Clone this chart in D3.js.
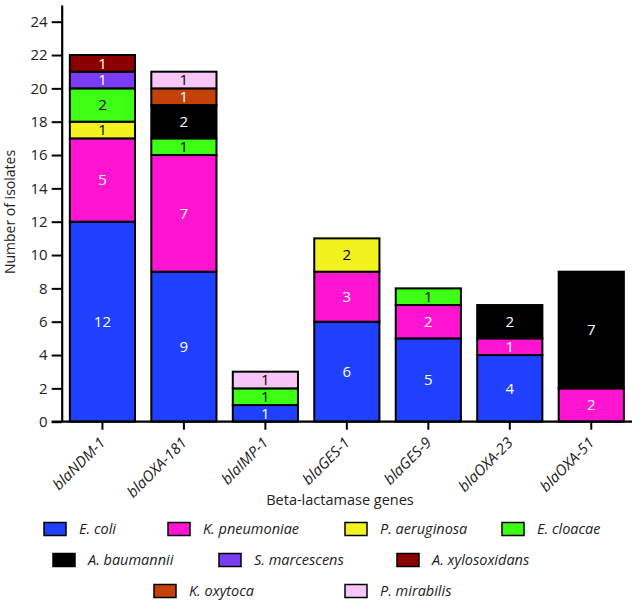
<!DOCTYPE html>
<html><head><meta charset="utf-8">
<script src="https://cdn.jsdelivr.net/npm/d3@7"></script>
<style>body{margin:0;background:#fff;} svg{display:block;}</style>
</head><body>
<svg id="chart" width="637" height="605"></svg>
<script>
const genes = ["blaNDM-1","blaOXA-181","blaIMP-1","blaGES-1","blaGES-9","blaOXA-23","blaOXA-51"];
const species = ["E. coli","K. pneumoniae","P. aeruginosa","E. cloacae","A. baumannii","S. marcescens","A. xylosoxidans","K. oxytoca","P. mirabilis"];
const colors = ["#2040ff","#ff14d2","#f2f21e","#3cff14","#000000","#7a3cf5","#8c0000","#c4420a","#f8c6f6"];
const textColors = ["#fff","#fff","#000","#000","#fff","#fff","#fff","#fff","#000"];
const eColi        = [12, 9, 1, 6, 5, 4, 0];
const kPneumoniae  = [5, 7, 0, 3, 2, 1, 2];
const pAeruginosa  = [1, 0, 0, 2, 0, 0, 0];
const eCloacae     = [2, 1, 1, 0, 1, 0, 0];
const aBaumannii   = [0, 2, 0, 0, 0, 2, 7];
const sMarcescens  = [1, 0, 0, 0, 0, 0, 0];
const aXylosoxidans= [1, 0, 0, 0, 0, 0, 0];
const kOxytoca     = [0, 1, 0, 0, 0, 0, 0];
const pMirabilis   = [0, 1, 1, 0, 0, 0, 0];
const yTicks = [0,2,4,6,8,10,12,14,16,18,20,22,24];

const seriesValues = [eColi,kPneumoniae,pAeruginosa,eCloacae,aBaumannii,sMarcescens,aXylosoxidans,kOxytoca,pMirabilis];
const table = genes.map((g,i)=>{const o={gene:g}; species.forEach((s,j)=>o[s]=seriesValues[j][i]); return o;});
const stacked = d3.stack().keys(species)(table);

const svg = d3.select("#chart");
const font = "'Open Sans', sans-serif";
const x0 = 61.7, x1 = 632, yBottom = 421.7;
const x = d3.scaleBand().domain(genes).range([x0, x1]).paddingInner(0.2).paddingOuter(0.1);
const y = d3.scaleLinear().domain([0, 25]).range([yBottom, yBottom - 25*16.667]);

// bars
const layers = svg.append("g").selectAll("g").data(stacked).enter().append("g")
  .attr("fill", (d,i)=>colors[i]);
layers.selectAll("rect").data(d=>d.filter(p=>p[1]-p[0]>0).map(p=>({p, key:d.key})))
  .enter().append("rect")
  .attr("x", d=>x(d.p.data.gene))
  .attr("width", x.bandwidth())
  .attr("y", d=>y(d.p[1]))
  .attr("height", d=>y(d.p[0])-y(d.p[1]))
  .attr("stroke","#000").attr("stroke-width",2);

// labels
stacked.forEach((layer,i)=>{
  svg.append("g").selectAll("text").data(layer.filter(p=>p[1]-p[0]>0)).enter().append("text")
    .attr("x", p=>x(p.data.gene)+x.bandwidth()/2)
    .attr("y", p=>(y(p[0])+y(p[1]))/2)
    .attr("dy","0.36em")
    .attr("text-anchor","middle")
    .attr("font-family",font).attr("font-size",15)
    .attr("fill", textColors[i])
    .text(p=>p[1]-p[0]);
});

// y axis
const yAxis = svg.append("g").attr("transform",`translate(${x0},0)`)
  .call(d3.axisLeft(y).tickValues(yTicks).tickSize(10).tickPadding(4).tickSizeOuter(0));
yAxis.select(".domain").attr("stroke-width",2.2);
yAxis.selectAll(".tick line").attr("stroke-width",2);
yAxis.selectAll("text").attr("font-family",font).attr("font-size",15).attr("fill","#222");

// x axis
const xAxis = svg.append("g").attr("transform",`translate(0,${yBottom})`)
  .call(d3.axisBottom(x).tickSize(8).tickSizeOuter(0));
xAxis.select(".domain").attr("stroke-width",2.2).attr("d",`M${x0-10},0H${x1}`);
xAxis.selectAll(".tick line").attr("stroke-width",2);
xAxis.selectAll("text").attr("font-family",font).attr("font-size",15).attr("font-style","italic")
  .attr("fill","#222")
  .attr("text-anchor","end")
  .attr("x",0).attr("y",0).attr("dy",0)
  .attr("transform","translate(4,22) rotate(-45)");

// axis titles
svg.append("text").attr("x",340).attr("y",505).attr("text-anchor","middle")
  .attr("font-family",font).attr("font-size",14.5).attr("fill","#222").text("Beta-lactamase genes");
svg.append("text").attr("transform","translate(15,212) rotate(-90)").attr("text-anchor","middle")
  .attr("font-family",font).attr("font-size",14).attr("fill","#222").text("Number of isolates");

// legend
const legendPos = [
  [44,529],[168,529],[345,529],[502,529],
  [53,560],[219,560],[397,560],
  [154,591],[345,591]
];
species.forEach((s,i)=>{
  const g = svg.append("g").attr("transform",`translate(${legendPos[i][0]},${legendPos[i][1]})`);
  g.append("rect").attr("x",0).attr("y",-6.5).attr("width",22).attr("height",13)
    .attr("fill",colors[i]).attr("stroke","#000").attr("stroke-width",1.5);
  g.append("text").attr("x",35).attr("y",0).attr("dy","0.35em")
    .attr("font-family",font).attr("font-size",14.5).attr("font-style","italic").attr("fill","#222").text(s);
});
</script>
</body></html>
